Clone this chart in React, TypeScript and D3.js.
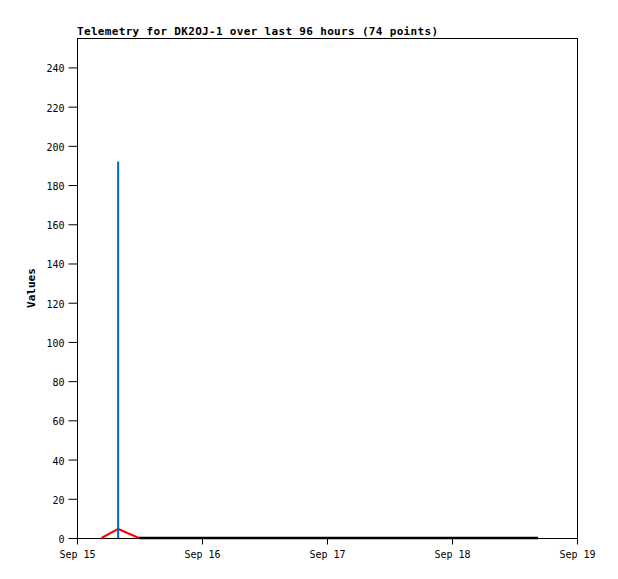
import { useEffect, useRef } from "react";
import { select, scaleLinear, scaleTime, axisLeft, axisBottom, line } from "d3";

const width = 618;
const height = 579;
const margin = { top: 38, right: 41, bottom: 41, left: 77 };

const title = "Telemetry for DK2OJ-1 over last 96 hours (74 points)";
const yLabel = "Values";

// hours after Sep 15 00:00
const blackHours = [11.9, 24, 36, 48, 60, 72, 88.5];
const blackValues = [0, 0, 0, 0, 0, 0, 0];
const redHours = [4.7, 7.9, 11.9];
const redValues = [0, 4.6, 0];
const blueHours = [7.9, 7.9];
const blueValues = [0, 192];

const yTicks = [0, 20, 40, 60, 80, 100, 120, 140, 160, 180, 200, 220, 240];
const start = new Date(2024, 8, 15);
const end = new Date(2024, 8, 19);
const xTicks = [15, 16, 17, 18, 19].map((d) => new Date(2024, 8, d));

const toDate = (h: number) => new Date(start.getTime() + h * 3600 * 1000);

export default function App() {
  const svgRef = useRef<SVGSVGElement | null>(null);

  useEffect(() => {
    const svg = select(svgRef.current);
    svg.selectAll("*").remove();
    const iw = width - margin.left - margin.right;
    const ih = height - margin.top - margin.bottom;

    const x = scaleTime().domain([start, end]).range([0, iw]);
    const y = scaleLinear().domain([0, 255]).range([ih, 0]);

    const g = svg
      .append("g")
      .attr("transform", `translate(${margin.left},${margin.top})`);

    g.append("rect")
      .attr("x", 0.5)
      .attr("y", 0.5)
      .attr("width", iw)
      .attr("height", ih)
      .attr("fill", "white")
      .attr("stroke", "black")
      .attr("stroke-width", 1);

    const yAxis = g
      .append("g")
      .attr("transform", "translate(0.5,0)")
      .call(
        axisLeft(y)
          .tickValues(yTicks)
          .tickSize(9)
          .tickPadding(4)
          .tickFormat((d) => String(d))
      );
    const xAxis = g
      .append("g")
      .attr("transform", `translate(0,${ih + 0.5})`)
      .call(
        axisBottom(x)
          .tickValues(xTicks)
          .tickSize(6)
          .tickPadding(6)
          .tickFormat((d) => {
            const dt = d as Date;
            return `Sep ${dt.getDate()}`;
          })
      );
    [yAxis, xAxis].forEach((a) => {
      a.select(".domain").remove();
      a.selectAll("text")
        .attr("font-family", "'DejaVu Sans Mono', monospace")
        .attr("font-size", 10)
        .attr("fill", "black");
      a.selectAll("line").attr("stroke", "black");
    });
    yAxis.selectAll("text").attr("dy", "0.45em");

    const path = line<[number, number]>()
      .x((d) => x(toDate(d[0])))
      .y((d) => y(d[1]));

    const series = [
      { hours: blackHours, values: blackValues, color: "black", w: 2.5 },
      { hours: redHours, values: redValues, color: "#ff0000", w: 2 },
      { hours: blueHours, values: blueValues, color: "#0066cc", w: 2 },
    ];
    series.forEach((s) => {
      g.append("path")
        .attr("d", path(s.hours.map((h, i) => [h, s.values[i]] as [number, number])))
        .attr("fill", "none")
        .attr("stroke", s.color)
        .attr("stroke-width", s.w);
    });

    svg
      .append("text")
      .attr("x", margin.left)
      .attr("y", 35)
      .attr("font-family", "'DejaVu Sans Mono', monospace")
      .attr("font-weight", "bold")
      .attr("font-size", 11)
      .attr("textLength", 361)
      .attr("lengthAdjust", "spacing")
      .text(title);

    svg
      .append("text")
      .attr("transform", `translate(35,${margin.top + ih / 2}) rotate(-90)`)
      .attr("text-anchor", "middle")
      .attr("font-family", "'DejaVu Sans Mono', monospace")
      .attr("font-weight", "bold")
      .attr("font-size", 11)
      .text(yLabel);
  }, []);

  return (
    <svg
      ref={svgRef}
      width={width}
      height={height}
      style={{ position: "absolute", left: 0, top: 0, background: "white" }}
    />
  );
}
